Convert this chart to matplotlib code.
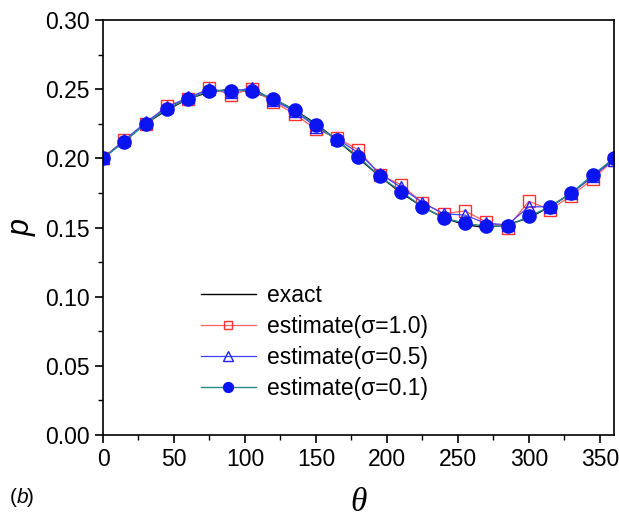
import matplotlib
matplotlib.use("Agg")
import numpy as np
import matplotlib.pyplot as plt
from matplotlib.ticker import MultipleLocator, FormatStrFormatter

plt.rcParams['font.family'] = ['Liberation Sans', 'DejaVu Sans']

theta = [0, 15, 30, 45, 60, 75, 90, 105, 120, 135, 150, 165, 180,
         195, 210, 225, 240, 255, 270, 285, 300, 315, 330, 345, 360]

p_exact = [0.200, 0.213, 0.225, 0.235, 0.243, 0.248, 0.250, 0.248, 0.243,
           0.235, 0.225, 0.213, 0.200, 0.187, 0.175, 0.165, 0.157, 0.152,
           0.150, 0.152, 0.157, 0.165, 0.175, 0.187, 0.200]
p_s10 = [0.200, 0.213, 0.225, 0.238, 0.243, 0.251, 0.246, 0.250, 0.241,
         0.232, 0.221, 0.215, 0.206, 0.188, 0.181, 0.168, 0.160, 0.162,
         0.154, 0.150, 0.169, 0.163, 0.173, 0.185, 0.199]
p_s05 = [0.200, 0.213, 0.226, 0.237, 0.244, 0.250, 0.248, 0.251, 0.242,
         0.234, 0.223, 0.214, 0.204, 0.189, 0.179, 0.168, 0.160, 0.159,
         0.153, 0.152, 0.165, 0.165, 0.175, 0.187, 0.199]
p_s01 = [0.200, 0.212, 0.225, 0.236, 0.243, 0.249, 0.249, 0.249, 0.243,
         0.235, 0.224, 0.213, 0.201, 0.187, 0.176, 0.165, 0.157, 0.153,
         0.151, 0.151, 0.158, 0.165, 0.175, 0.188, 0.200]

fig = plt.figure(figsize=(6.19, 5.19), dpi=100)
ax = fig.add_axes([0.1664, 0.1618, 0.8255, 0.7996])

ax.plot(theta, p_exact, color='black', lw=1.0, label='exact')
ax.plot(theta, p_s10, color='#ff6060', lw=0.9, marker='s', ms=8,
        mfc='none', mec='#ff3030', mew=1.0, label='estimate(σ=1.0)')
ax.plot(theta, p_s05, color='#4040ff', lw=0.9, marker='^', ms=9,
        mfc='none', mec='#2020ff', mew=1.0, label='estimate(σ=0.5)')
ax.plot(theta, p_s01, color='#2a8a8a', lw=1.0, marker='o', ms=9.5,
        mfc='#0a14f0', mec='#0a14f0', label='estimate(σ=0.1)')

ax.set_xlim(0, 360)
ax.set_ylim(0, 0.30)
ax.xaxis.set_major_locator(MultipleLocator(50))
ax.xaxis.set_minor_locator(MultipleLocator(25))
ax.yaxis.set_major_locator(MultipleLocator(0.05))
ax.yaxis.set_minor_locator(MultipleLocator(0.025))
ax.yaxis.set_major_formatter(FormatStrFormatter('%.2f'))
ax.tick_params(which='major', direction='out', length=6, width=1.2,
               labelsize=16.5, top=False, right=False)
ax.tick_params(which='minor', direction='out', length=3.5, width=1.0,
               top=False, right=False)
for s in ax.spines.values():
    s.set_linewidth(1.2)

ax.set_ylabel('p', fontsize=22, fontstyle='italic', labelpad=6)
ax.set_xlabel('θ', fontsize=24, fontstyle='italic', family='Liberation Serif',
              labelpad=12)

# panel tag "(b)" with italic b
fig.text(0.016, 0.030, '(', fontsize=15)
fig.text(0.027, 0.030, 'b', fontsize=15, fontstyle='italic')
fig.text(0.044, 0.030, ')', fontsize=15)

ax.legend(loc='lower left', bbox_to_anchor=(0.16, 0.045), frameon=False,
          fontsize=16.5, handlelength=2.4, labelspacing=0.35, borderpad=0.2,
          handletextpad=0.5, markerscale=0.75)

fig.savefig('out.png', dpi=100)
